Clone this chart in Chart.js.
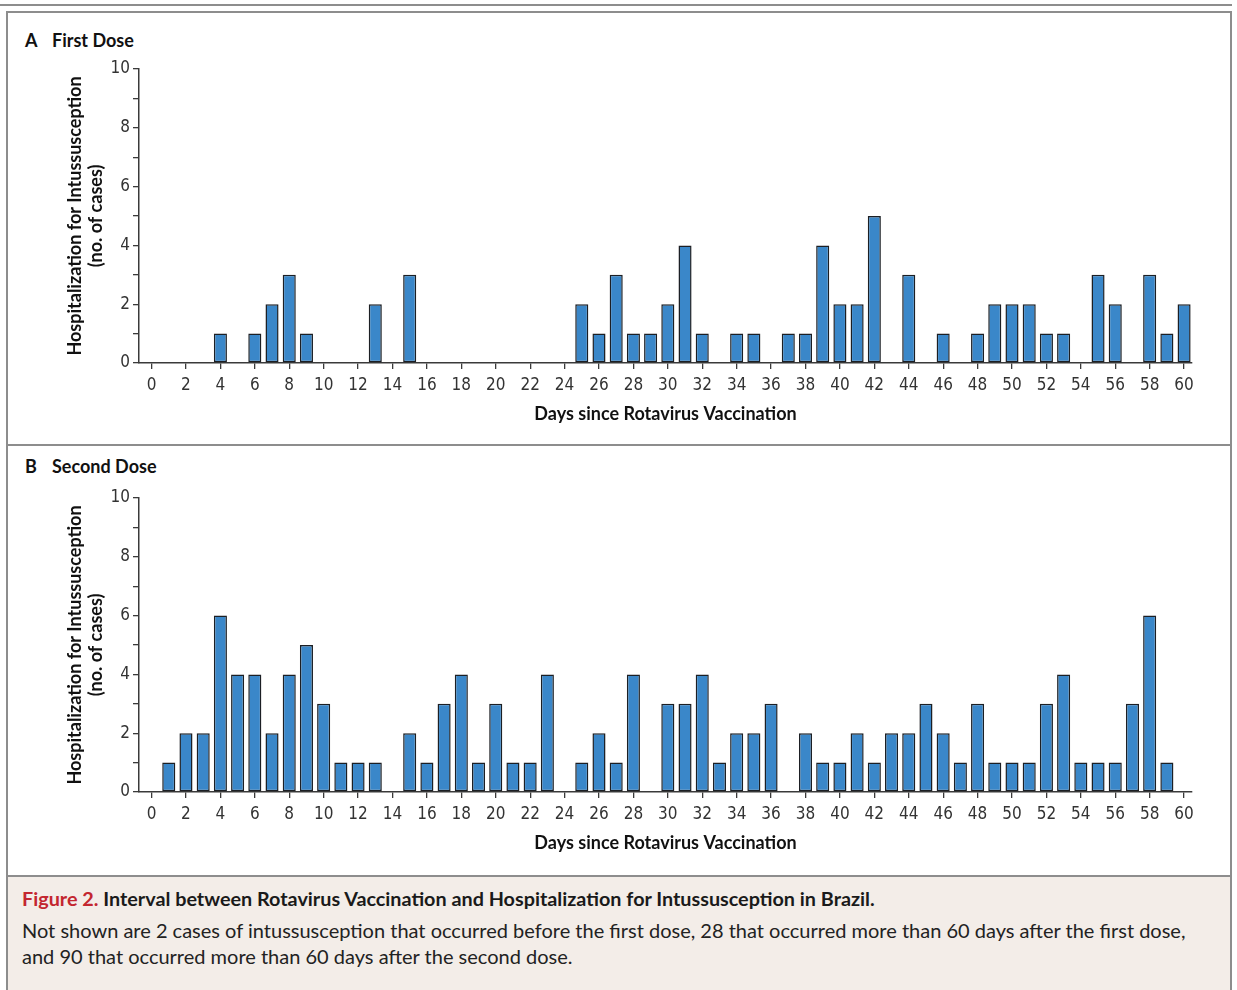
<!DOCTYPE html>
<html>
<head>
<meta charset="utf-8">
<script src="https://cdn.jsdelivr.net/npm/chart.js@4.4.1/dist/chart.umd.min.js"></script>
<style>
  html, body { margin: 0; padding: 0; background: #fff; }
  #page { position: relative; width: 1237px; height: 990px; overflow: hidden; font-family: Lato, "Open Sans", sans-serif; }
  .rule { position: absolute; background: #8d8d8d; }
  .frame { position: absolute; left: 6px; top: 11px; width: 1222px; height: 990px; border: 2px solid #8d8d8d; border-bottom: none; }
  .caption { position: absolute; left: 8px; top: 877px; width: 1222px; height: 113px; background: #f3ede8; }
  .panel-title { position: absolute; left: 25px; font-weight: 700; font-size: 18px; color: #111; }
  .panel-title .tag { display: inline-block; width: 27px; }
  canvas { position: absolute; }
  .cap1 { position: absolute; left: 22px; top: 886px; font-size: 19.8px; font-weight: 700; color: #1a1a1a; white-space: nowrap; }
  .cap1 .fig { color: #c3262f; }
  .cap2 { position: absolute; left: 22px; top: 917px; font-size: 20px; line-height: 26px; color: #222; white-space: nowrap; }
</style>
</head>
<body>
<div id="page">
  <div class="rule" style="left:0;top:4px;width:1232px;height:2px;"></div>
  <div class="frame"></div>
  <div class="rule" style="left:6px;top:444px;width:1224px;height:2px;"></div>
  <div class="caption"></div>
  <div class="rule" style="left:6px;top:875px;width:1224px;height:2px;"></div>

  <div class="panel-title" style="top:29px;"><span class="tag">A</span>First Dose</div>
  <div class="panel-title" style="top:455px;"><span class="tag">B</span>Second Dose</div>

  <canvas id="chartA" width="1200" height="373" style="left:8px;top:60px;"></canvas>
  <canvas id="chartB" width="1200" height="373" style="left:8px;top:489px;"></canvas>

  <div class="cap1"><span class="fig">Figure 2.</span> Interval between Rotavirus Vaccination and Hospitalization for Intussusception in Brazil.</div>
  <div class="cap2">Not shown are 2 cases of intussusception that occurred before the first dose, 28 that occurred more than 60 days after the first dose,<br>and 90 that occurred more than 60 days after the second dose.</div>
</div>

<script>
// Days since vaccination (0-60)
const days = [0, 1, 2, 3, 4, 5, 6, 7, 8, 9, 10, 11, 12, 13, 14, 15, 16, 17, 18, 19, 20,
  21, 22, 23, 24, 25, 26, 27, 28, 29, 30, 31, 32, 33, 34, 35, 36, 37, 38, 39, 40,
  41, 42, 43, 44, 45, 46, 47, 48, 49, 50, 51, 52, 53, 54, 55, 56, 57, 58, 59, 60];

// Hospitalizations for intussusception, by day after the first dose
const firstDoseCases = [0, 0, 0, 0, 1, 0, 1, 2, 3, 1, 0, 0, 0, 2, 0, 3, 0, 0, 0, 0, 0,
  0, 0, 0, 0, 2, 1, 3, 1, 1, 2, 4, 1, 0, 1, 1, 0, 1, 1, 4, 2,
  2, 5, 0, 3, 0, 1, 0, 1, 2, 2, 2, 1, 1, 0, 3, 2, 0, 3, 1, 2];

// Hospitalizations for intussusception, by day after the second dose
const secondDoseCases = [0, 1, 2, 2, 6, 4, 4, 2, 4, 5, 3, 1, 1, 1, 0, 2, 1, 3, 4, 1, 3,
  1, 1, 4, 0, 1, 2, 1, 4, 0, 3, 3, 4, 1, 2, 2, 3, 0, 2, 1, 1,
  2, 1, 2, 2, 3, 2, 1, 3, 1, 1, 1, 3, 4, 1, 1, 1, 3, 6, 1, 0];

// Labelled ticks
const xTickValues = [0, 2, 4, 6, 8, 10, 12, 14, 16, 18, 20, 22, 24, 26, 28, 30,
  32, 34, 36, 38, 40, 42, 44, 46, 48, 50, 52, 54, 56, 58, 60];
const yTickValues = [0, 1, 2, 3, 4, 5, 6, 7, 8, 9, 10];

const xTitle = 'Days since Rotavirus Vaccination';
const yTitle = ['Hospitalization for Intussusception', '(no. of cases)'];

const BAR_FILL = '#3a87c9';
const BAR_EDGE = '#1c1f24';
const AXIS = '#3a3a3a';
const tickFont = { family: '"Liberation Sans Narrow", "DejaVu Sans Condensed", sans-serif', size: 17 };
const titleFont = { family: 'Lato, "Open Sans", sans-serif', size: 18, weight: 'bold', lineHeight: 1.2 };

function makeChart(id, values) {
  const points = days.map((d, i) => ({ x: d, y: values[i] }));
  return new Chart(document.getElementById(id), {
    type: 'bar',
    data: {
      datasets: [{
        data: points,
        backgroundColor: BAR_FILL,
        borderColor: BAR_EDGE,
        borderWidth: 1.5,
        borderSkipped: false,
        barPercentage: 0.76,
        categoryPercentage: 1
      }]
    },
    options: {
      responsive: false,
      animation: false,
      devicePixelRatio: 1,
      layout: { padding: { top: 9, right: 16, left: 0, bottom: 0 } },
      plugins: { legend: { display: false }, tooltip: { enabled: false } },
      scales: {
        x: {
          type: 'linear',
          offset: false,
          min: -0.73,
          max: 60.46,
          afterBuildTicks: s => { s.ticks = xTickValues.map(v => ({ value: v })); },
          afterFit: s => { s.height = 70; },
          grid: { offset: false, drawOnChartArea: false, drawTicks: true, tickLength: 6, color: AXIS, lineWidth: 1.3 },
          border: { display: true, color: AXIS, width: 1.5 },
          ticks: { font: tickFont, color: '#333', padding: 6, maxRotation: 0, autoSkip: false },
          title: { display: true, text: xTitle, font: titleFont, color: '#111', padding: { top: 4, bottom: 8 } }
        },
        y: {
          min: 0,
          max: 10,
          afterBuildTicks: s => { s.ticks = yTickValues.map(v => ({ value: v })); },
          afterFit: s => { s.width = 131; s.paddingTop = 0; },
          grid: { drawOnChartArea: false, drawTicks: true, tickLength: 6, color: AXIS, lineWidth: 1.3 },
          border: { display: true, color: AXIS, width: 1.5 },
          ticks: { font: tickFont, color: '#333', padding: 3, callback: v => (v % 2 === 0 ? v : '') },
          title: { display: true, text: yTitle, font: titleFont, color: '#111', padding: { top: 56, bottom: 0 } }
        }
      }
    }
  });
}

makeChart('chartA', firstDoseCases);
makeChart('chartB', secondDoseCases);
</script>
</body>
</html>
